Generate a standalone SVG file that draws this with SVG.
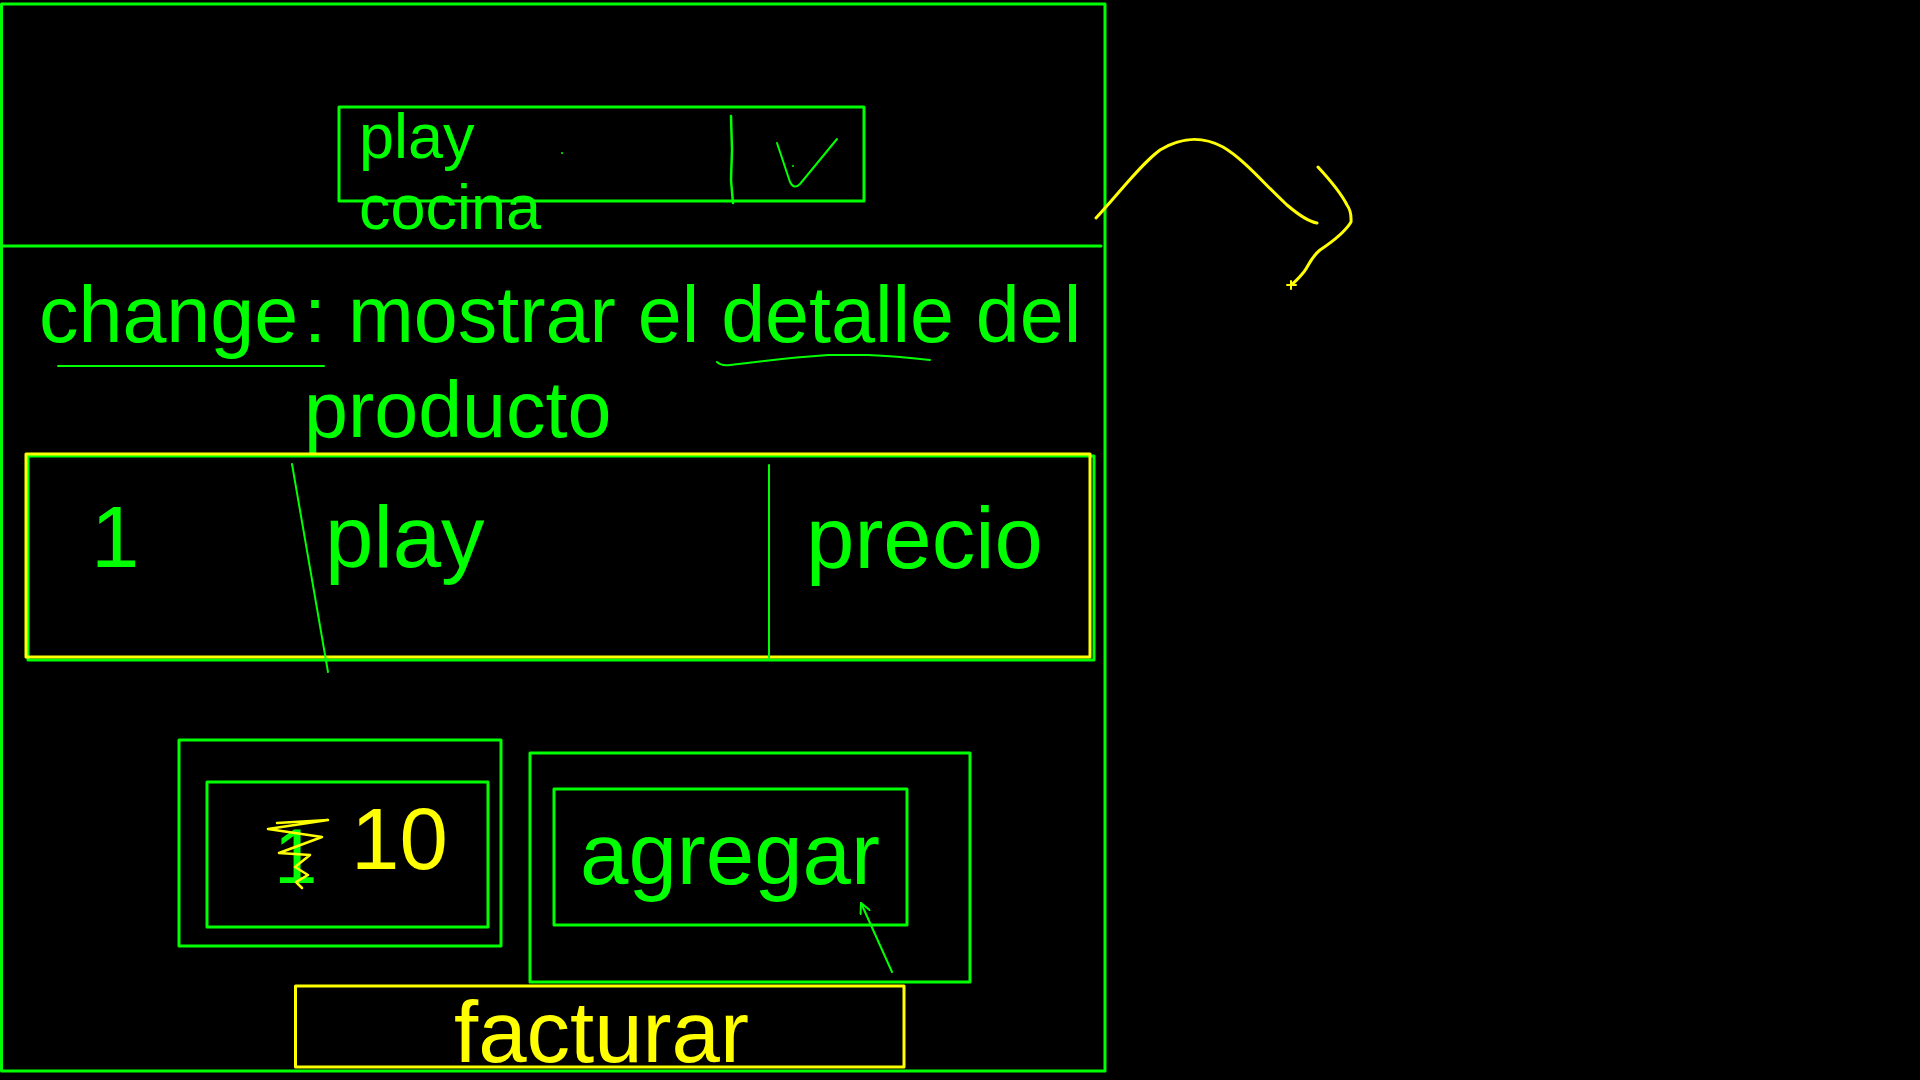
<svg xmlns="http://www.w3.org/2000/svg" width="1920" height="1080" viewBox="0 0 1920 1080">
<style>
.g{stroke:#00ff00;fill:none;stroke-linecap:round;stroke-linejoin:round}
.y{stroke:#ffff00;fill:none;stroke-linecap:round;stroke-linejoin:round}
.tg{fill:#00ff00;font-family:"Liberation Sans",Arial,sans-serif}
.ty{fill:#ffff00;font-family:"Liberation Sans",Arial,sans-serif}
</style>
<defs>
<marker id="ah" viewBox="0 0 12 12" refX="11" refY="6" markerWidth="12" markerHeight="12" markerUnits="userSpaceOnUse" orient="auto">
<path d="M1,1 L11,6 L1,11" fill="none" stroke="#00ff00" stroke-width="2" stroke-linecap="round"/>
</marker>
</defs>
<rect width="1920" height="1080" fill="#000"/>

<g id="screen">
<rect class="g" x="1.5" y="4" width="1103.5" height="1067" stroke-width="3"/>
<line class="g" x1="0" y1="246" x2="1101" y2="246" stroke-width="3"/>
</g>

<g id="dropdown">
<rect class="g" x="339" y="107" width="525" height="94" stroke-width="3"/>
<path class="g" d="M731,116 L732,150 L731,180 L733,203" stroke-width="2.5"/>
<path class="g" d="M777,143 Q786,170 790,182 Q794,190 800,184 L837,139" stroke-width="2"/>
<circle cx="793" cy="166" r="1" fill="#00ff00"/>
<circle cx="562" cy="153" r="1" fill="#00ff00"/>
<text class="tg" x="359" y="158" font-size="63">play</text>
<text class="tg" x="359" y="229" font-size="63">cocina</text>
</g>

<g id="title">
<text class="tg" x="39" y="342" font-size="79">change</text>
<text class="tg" x="304" y="342" font-size="79">:</text>
<text class="tg" x="348" y="342" font-size="79">mostrar el detalle del</text>
<text class="tg" x="304" y="437" font-size="79">producto</text>
<line class="g" x1="58" y1="366" x2="324" y2="366" stroke-width="2"/>
<path class="g" d="M717,362 Q721,366 730,365 Q785,358 828,355 L868,355 Q895,356 930,360" stroke-width="2"/>
</g>

<g id="row">
<rect class="g" x="28" y="456" width="1066" height="204" stroke-width="3"/>
<rect class="y" x="26" y="454" width="1064" height="203" stroke-width="3"/>
<line class="g" x1="292" y1="464" x2="328" y2="672" stroke-width="2"/>
<line class="g" x1="769" y1="465" x2="769" y2="660" stroke-width="2"/>
<text class="tg" x="91" y="567" font-size="87">1</text>
<text class="tg" x="325" y="567" font-size="87">play</text>
<text class="tg" x="806" y="568" font-size="87">precio</text>
</g>

<g id="qty">
<rect class="g" x="179" y="740" width="322" height="206" stroke-width="3"/>
<rect class="g" x="207" y="782" width="281" height="145" stroke-width="3"/>
<text class="tg" x="274" y="883" font-size="78">1</text>
<path class="y" d="M277,823 L328,820 L268,829 L322,837 L279,853 L310,855 L295,867 L308,875 L296,882 L302,888" stroke-width="2.5"/>
<text class="ty" x="351" y="869" font-size="87">10</text>
</g>

<g id="agregar">
<rect class="g" x="530" y="753" width="440" height="229" stroke-width="3"/>
<rect class="g" x="554" y="789" width="353" height="136" stroke-width="3"/>
<text class="tg" x="580" y="884" font-size="87">agregar</text>
</g>

<g id="facturar">
<rect class="y" x="295.5" y="986" width="608.5" height="81" stroke-width="3"/>
<text class="ty" x="454" y="1062" font-size="87">facturar</text>
</g>

<g id="annotation">
<path class="y" d="M1096,218 C1120,192 1140,165 1160,150 C1180,138 1200,135 1223,147 C1245,160 1265,185 1287,205 C1300,216 1310,222 1317,223" stroke-width="3"/>
<path class="y" d="M1318,167 C1330,180 1342,195 1347,205 C1352,212 1351,218 1351,222 C1345,232 1335,240 1320,250 C1310,258 1308,268 1303,273 C1298,279 1295,282 1291,285" stroke-width="3"/>
<path class="y" d="M1291,281 L1291,289 M1287,285 L1296,285" stroke-width="2"/>
</g>

<g id="connectors">
<line class="g" x1="892" y1="972" x2="861" y2="903" stroke-width="2" marker-end="url(#ah)"/>
</g>
</svg>
